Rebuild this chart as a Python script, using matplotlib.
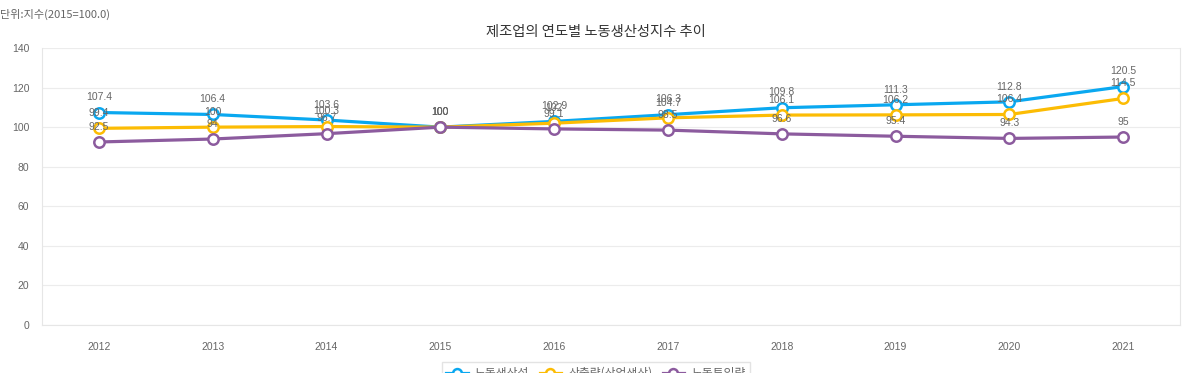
import matplotlib
matplotlib.use("Agg")
import matplotlib.pyplot as plt
import numpy as np

plt.rcParams['font.family'] = ['Noto Sans CJK KR', 'DejaVu Sans']

# data
years = ["2012", "2013", "2014", "2015", "2016", "2017", "2018", "2019", "2020", "2021"]
productivity = [107.4, 106.4, 103.6, 100, 102.9, 106.3, 109.8, 111.3, 112.8, 120.5]
output = [99.4, 100, 100.3, 100, 102.0, 104.7, 106.1, 106.2, 106.4, 114.5]
labor_input = [92.5, 94, 96.7, 100, 99.1, 98.5, 96.6, 95.4, 94.3, 95]
series_names = ["노동생산성", "산출량(산업생산)", "노동투입량"]
colors = ["#0aa8f0", "#fcbc04", "#8c5b9e"]

fig = plt.figure(figsize=(11.89, 3.73), dpi=100)
ax = fig.add_axes([42 / 1189, 1 - 325 / 373, (1180 - 42) / 1189, (325 - 48) / 373])

x = np.arange(len(years))
for vals, name, c in zip([productivity, output, labor_input], series_names, colors):
    ax.plot(x, vals, color=c, lw=2.3, marker='o', ms=7.5, mfc='white',
            mec=c, mew=1.8, label=name, zorder=3)
    for xi, v in zip(x, vals):
        ax.annotate(f"{v:g}", (xi, v), xytext=(0, 11), textcoords='offset points',
                    ha='center', va='center', fontsize=7.5, color='#666666',
                    family=['Liberation Sans', 'DejaVu Sans'], zorder=4)

ax.set_xlim(-0.5, len(years) - 0.5)
ax.set_ylim(0, 140)
ax.set_xticks(x)
ax.set_xticklabels(years)
ax.set_yticks(range(0, 141, 20))
ax.tick_params(length=0, labelsize=7.5, colors='#666666', pad=12)
for lbl in ax.get_xticklabels() + ax.get_yticklabels():
    lbl.set_family(['Liberation Sans', 'DejaVu Sans'])
ax.tick_params(axis='y', pad=9)
ax.grid(axis='y', color='#ececec', lw=0.8)
ax.set_axisbelow(True)
for s in ax.spines.values():
    s.set_color('#e6e6e6')
    s.set_linewidth(0.8)
ax.spines['top'].set_visible(False)

fig.text(596 / 1189, 1 - 32 / 373, "제조업의 연도별 노동생산성지수 추이", ha='center', va='center',
         fontsize=10.3, color='#333333')
fig.text(0, 1 - 14 / 373, "단위:지수(2015=100.0)", ha='left', va='center',
         fontsize=8, color='#666666')

fig.legend(loc='upper center', bbox_to_anchor=(596 / 1189, 1 - 362 / 373), ncol=3,
           frameon=True, fontsize=8.5, edgecolor='#dddddd', fancybox=False,
           borderaxespad=0, handlelength=1.8, handletextpad=0.6, markerscale=0.85,
           columnspacing=0.9, labelcolor='#666666')

fig.savefig("out.png", dpi=100)
